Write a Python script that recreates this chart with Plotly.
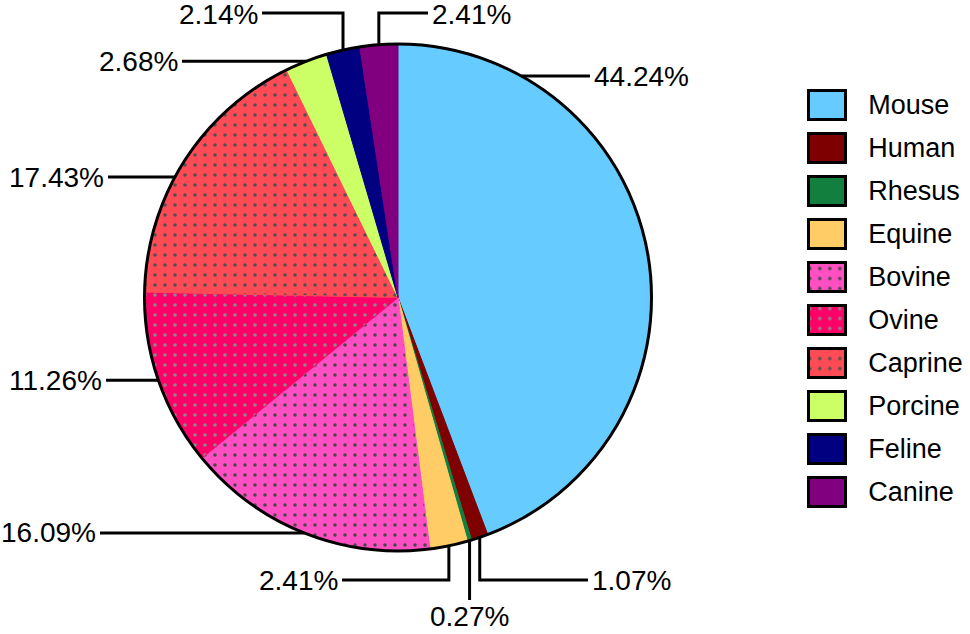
import math
import plotly.graph_objects as go

# data
species = ["Mouse", "Human", "Rhesus", "Equine", "Bovine",
           "Ovine", "Caprine", "Porcine", "Feline", "Canine"]
share = [44.24, 1.07, 0.27, 2.41, 16.09, 11.26, 17.43, 2.68, 2.14, 2.41]

colors = ["#66CCFF", "#7F0000", "#127F3F", "#FFCC66", "#FF4FC3",
          "#FF0068", "#FF4B55", "#CCFF66", "#000080", "#800080"]
dots = ["", "", "", "", ".", ".", ".", "", "", ""]
dot_colors = ["#000000", "#000000", "#000000", "#000000", "#474747",
              "#8A8A8A", "#505050", "#000000", "#000000", "#000000"]

# page geometry (pixels)
W, H = 970, 634
CX, CY, R = 398, 297.5, 253.5
FONT = "Liberation Sans, Arial, sans-serif"
DOT_SIZE, DOT_SOLIDITY = 10, 0.1


def px(x):
    return x / W


def py(y):
    return 1 - y / H


# how each percentage label is led out of the pie:
# kind "h": horizontal line to x=end; kind "v": vertical line to y=to, then to x=end
# ty: where the text centre sits if not on the line
label_layout = [
    dict(kind="h", y=76, end=590),                 # Mouse
    dict(kind="v", to=580, end=588),               # Human
    dict(kind="v", to=600, end=None, ty=616),      # Rhesus
    dict(kind="v", to=580, end=342),               # Equine
    dict(kind="h", end=100),                       # Bovine
    dict(kind="h", end=106),                       # Ovine
    dict(kind="h", y=177, end=108),                # Caprine
    dict(kind="h", end=182),                       # Porcine
    dict(kind="v", to=13, end=262, ty=15),         # Feline
    dict(kind="v", to=13, end=428, ty=15),         # Canine
]

fig = go.Figure()

fig.add_trace(go.Pie(
    labels=species, values=share, sort=False, direction="clockwise", rotation=0,
    marker=dict(colors=colors, line=dict(color=colors, width=1),
                pattern=dict(shape=dots, bgcolor=colors, fgcolor=dot_colors,
                             fillmode="replace", size=DOT_SIZE, solidity=DOT_SOLIDITY)),
    textinfo="none", hoverinfo="label+percent", showlegend=False,
    domain=dict(x=[px(CX - R), px(CX + R)], y=[py(CY + R), py(CY - R)]),
))
# outer rim only (no radial edges between slices)
fig.add_trace(go.Pie(
    values=[1], labels=["rim"], sort=False,
    marker=dict(colors=["rgba(0,0,0,0)"], line=dict(color="black", width=3)),
    textinfo="none", hoverinfo="skip", showlegend=False,
    domain=dict(x=[px(CX - R), px(CX + R)], y=[py(CY + R), py(CY - R)]),
))

shapes = []
annotations = []
start = 0.0
for name, v, lay in zip(species, share, label_layout):
    mid = math.radians((start + v / 2) / 100 * 360)
    start += v
    ax = CX + R * math.sin(mid)
    ay = CY - R * math.cos(mid)
    text = f"{v:.2f}%"
    if lay["kind"] == "h":
        if "y" in lay:
            ay = lay["y"]
            dx = math.sqrt(R ** 2 - (ay - CY) ** 2)
            ax = CX + dx if lay["end"] > CX else CX - dx
        path = f"M {px(ax)} {py(ay)} L {px(lay['end'])} {py(ay)}"
        ty = ay
        tx = lay["end"]
    else:
        path = f"M {px(ax)} {py(ay)} L {px(ax)} {py(lay['to'])}"
        ty = lay["to"]
        tx = ax
        if lay["end"] is not None:
            path += f" L {px(lay['end'])} {py(ty)}"
            tx = lay["end"]
    ty = lay.get("ty", ty)
    shapes.append(dict(type="path", path=path, xref="paper", yref="paper",
                       line=dict(color="black", width=3)))
    if lay["kind"] == "v" and lay["end"] is None:
        xanchor, xt = "center", tx
    elif tx > ax:
        xanchor, xt = "left", tx + 2
    else:
        xanchor, xt = "right", tx - 2
    annotations.append(dict(x=px(xt), y=py(ty), xref="paper", yref="paper",
                            text=text, showarrow=False, xanchor=xanchor, yanchor="middle",
                            font=dict(size=28, family=FONT, color="black")))

# legend drawn as a column of equal swatches with the names as axis labels
for name, c, d, dc in zip(species, colors, dots, dot_colors):
    fig.add_trace(go.Bar(
        y=[name], x=[1], orientation="h", width=0.68,
        marker=dict(color=c, line=dict(color="black", width=3),
                    pattern=dict(shape=d, bgcolor=c, fgcolor=dc, fillmode="replace",
                                 size=DOT_SIZE, solidity=DOT_SOLIDITY)),
        hoverinfo="skip", showlegend=False,
    ))

sw_l, sw_r = 808.5, 845.5
unit = sw_r - sw_l
row_top, row_bot = 105 - 21.5, 105 + 9.5 * 43.0

fig.update_layout(
    width=W, height=H, template="none", barmode="overlay",
    margin=dict(l=0, r=0, t=0, b=0),
    paper_bgcolor="white", plot_bgcolor="rgba(0,0,0,0)",
    font=dict(family=FONT, size=28, color="black"),
    shapes=shapes, annotations=annotations,
    xaxis=dict(domain=[px(sw_l - 0.1 * unit), px(sw_r + 0.1 * unit)], range=[-0.1, 1.1],
               visible=False, fixedrange=True, automargin=False),
    yaxis=dict(domain=[py(row_bot), py(row_top)], side="right", anchor="x",
               categoryorder="array", categoryarray=species, autorange="reversed",
               showgrid=False, zeroline=False, showline=False, ticks="",
               ticklabelstandoff=18, automargin=False, fixedrange=True,
               tickfont=dict(size=27, family=FONT, color="black")),
)

fig.write_html("out.html", config={"displayModeBar": False},
               post_script="document.body.style.margin='0';")
